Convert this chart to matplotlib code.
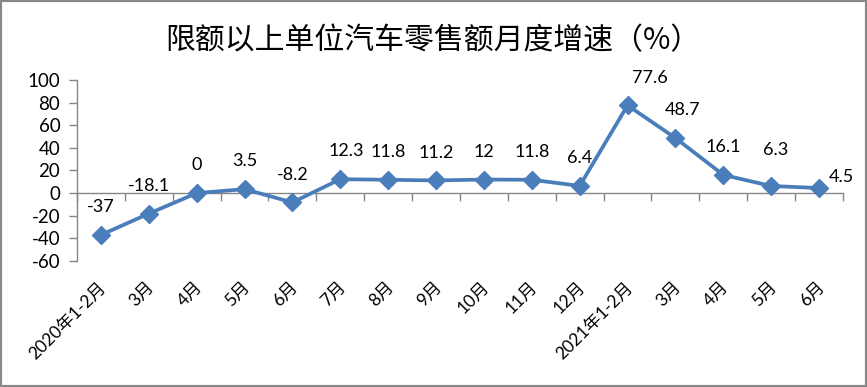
import matplotlib
matplotlib.use("Agg")
import matplotlib.pyplot as plt
import matplotlib.transforms as mtransforms
from matplotlib.patches import Rectangle

plt.rcParams['font.family'] = ['Lato', 'Noto Sans CJK SC', 'DejaVu Sans']

title = "限额以上单位汽车零售额月度增速（%）"
categories = ["2020年1-2月", "3月", "4月", "5月", "6月", "7月", "8月", "9月", "10月",
              "11月", "12月", "2021年1-2月", "3月", "4月", "5月", "6月"]
values = [-37, -18.1, 0, 3.5, -8.2, 12.3, 11.8, 11.2, 12, 11.8, 6.4, 77.6, 48.7, 16.1, 6.3, 4.5]
value_labels = ["-37", "-18.1", "0", "3.5", "-8.2", "12.3", "11.8", "11.2", "12", "11.8",
                "6.4", "77.6", "48.7", "16.1", "6.3", "4.5"]
yticks = [-60, -40, -20, 0, 20, 40, 60, 80, 100]

# label offsets in points (style)
label_dx = [0, 0, 0, 0, 0, 4, 0, 0, 0, 0, 0, 16, 5, 0, 3, 16]
label_dy = [20, 20, 20, 20, 20, 20, 20, 20, 20, 20, 20, 20, 20, 20, 26, 8]

line_color = '#4A7EBB'
axis_color = '#868686'

fig = plt.figure(figsize=(8.67, 3.87), dpi=100)
fig.patches.append(Rectangle((0, 0), 1, 1, transform=fig.transFigure, fill=False,
                             edgecolor='#888888', linewidth=3, zorder=10))
ax = fig.add_axes([0.0888, 0.3256, 0.8835, 0.4677])

x = list(range(len(categories)))
ax.plot(x, values, color=line_color, linewidth=2.7, marker='D', markersize=9,
        markerfacecolor=line_color, markeredgecolor=line_color, zorder=3, clip_on=False)

for xi, v, lab, dx, dy in zip(x, values, value_labels, label_dx, label_dy):
    ax.annotate(lab, (xi, v), xytext=(dx, dy), textcoords='offset points',
                ha='center', va='center', fontsize=13, color='black')

ax.set_xlim(-0.5, len(categories) - 0.5)
ax.set_ylim(-60, 100)
ax.set_yticks(yticks)
ax.set_yticklabels([str(t) for t in yticks], fontsize=13.5)

for s in ['top', 'right']:
    ax.spines[s].set_visible(False)
ax.spines['left'].set_color(axis_color)
ax.spines['bottom'].set_color(axis_color)
ax.spines['bottom'].set_position(('data', 0))
ax.spines['left'].set_linewidth(1)
ax.spines['bottom'].set_linewidth(1)

ax.set_xticks([i - 0.5 for i in range(len(categories) + 1)])
ax.set_xticklabels([])
ax.tick_params(axis='x', direction='out', length=6, color=axis_color, width=1)
ax.tick_params(axis='y', direction='out', length=6, color=axis_color, width=1, pad=6)

trans = mtransforms.blended_transform_factory(ax.transData, ax.transAxes)
for xi, c in zip(x, categories):
    t = ax.text(xi, 0, c, transform=trans, rotation=45, rotation_mode='anchor',
                ha='right', va='top', fontsize=12.5)
    t.set_transform(trans + mtransforms.ScaledTranslation(-2 / 72, -13 / 72, fig.dpi_scale_trans))

fig.text(0.499, 0.895, title, ha='center', va='center', fontsize=21.5,
         family=['Noto Sans CJK SC', 'DejaVu Sans'])

fig.savefig('out.png', dpi=100)
